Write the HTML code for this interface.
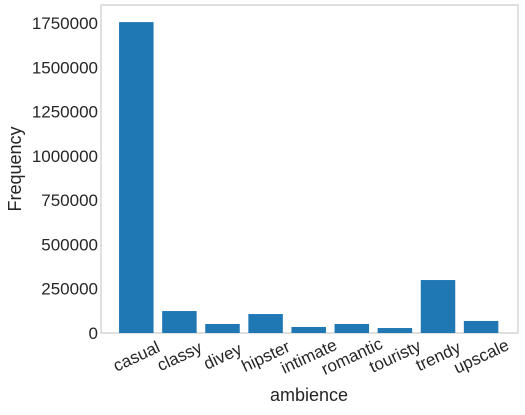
<!DOCTYPE html>
<html><head><style>
body{margin:0;background:#fff;}
svg text{font-family:"Liberation Sans","DejaVu Sans",sans-serif;fill:#262626;}
</style></head><body>
<svg id="chart" width="525" height="410" xmlns="http://www.w3.org/2000/svg">
<rect x="101" y="5" width="417" height="328" fill="none" stroke="#cccccc" stroke-width="1.2"/>
<g id="bars"></g><g id="yticks"></g><g id="xticks"></g>
<text x="309" y="401" font-size="18" text-anchor="middle">ambience</text>
<text x="21" y="169" font-size="18" text-anchor="middle" transform="rotate(-90 21 169)">Frequency</text>
</svg>
<script>
const categories=["casual","classy","divey","hipster","intimate","romantic","touristy","trendy","upscale"];
const values=[1755000,124000,51000,107000,34000,51000,28000,299000,68000];
const yTicks=[0,250000,500000,750000,1000000,1250000,1500000,1750000];
const NS="http://www.w3.org/2000/svg";
function y(v){return 333-v*(310/1750000);}
function xc(i){return 136.3+i*43.1;}
const bw=34.5;
const bars=document.getElementById('bars'),yt=document.getElementById('yticks'),xt=document.getElementById('xticks');
values.forEach((v,i)=>{
 const r=document.createElementNS(NS,'rect');
 r.setAttribute('x',xc(i)-bw/2);r.setAttribute('y',y(v));
 r.setAttribute('width',bw);r.setAttribute('height',333-y(v));
 r.setAttribute('fill','#1f77b4');
 
 
 bars.appendChild(r);
});
yTicks.forEach(t=>{
 const tx=document.createElementNS(NS,'text');
 tx.setAttribute('x',98);tx.setAttribute('y',y(t)+6);
 tx.setAttribute('font-size','17');tx.setAttribute('text-anchor','end');
 tx.textContent=t;
 
 
 yt.appendChild(tx);
});
categories.forEach((c,i)=>{
 const tx=document.createElementNS(NS,'text');
 const px=xc(i),py=356;
 tx.setAttribute('x',px);tx.setAttribute('y',py+6);
 tx.setAttribute('font-size','17');tx.setAttribute('text-anchor','middle');
 tx.setAttribute('transform','rotate(-25 '+px+' '+py+')');
 tx.textContent=c;
 
 
 xt.appendChild(tx);
});
</script>
</body></html>
